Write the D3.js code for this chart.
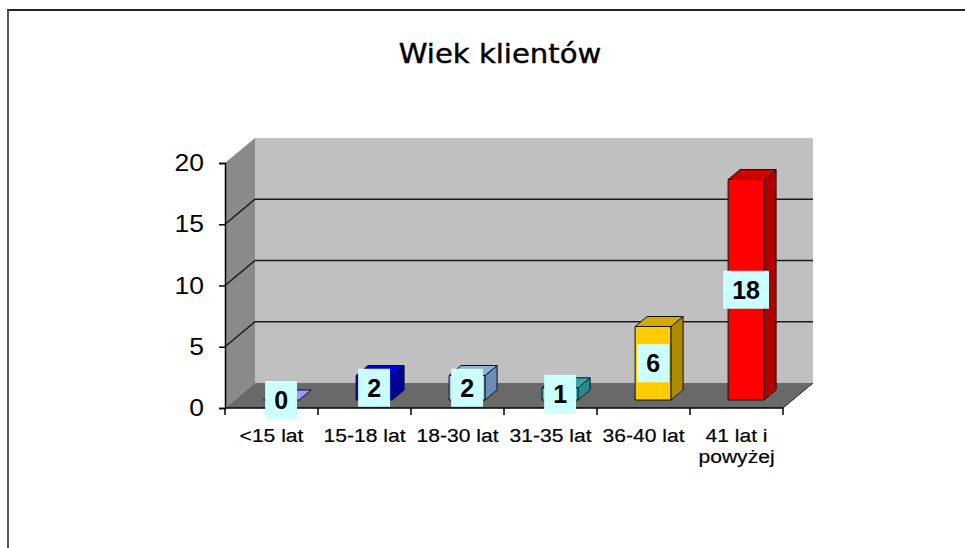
<!DOCTYPE html>
<html>
<head>
<meta charset="utf-8">
<script src="https://cdn.jsdelivr.net/npm/d3@7"></script>
<style>
  body { margin: 0; background: #fff; }
  svg { display: block; }
</style>
</head>
<body>
<div id="chart"></div>
<script>
// data
var categories = ["<15 lat", "15-18 lat", "18-30 lat", "31-35 lat", "36-40 lat", "41 lat i\npowyżej"];
var values = [0, 2, 2, 1, 6, 18];
var yTicks = [0, 5, 10, 15, 20];
var title = "Wiek klientów";

// bar colours: front, top, side
var fronts = ["#9999ff", "#0000ff", "#a6cdfa", "#33cccc", "#ffcc00", "#ff0000"];
var tops   = ["#9999ff", "#0000d8", "#8fb2dc", "#2aa7a7", "#d4a900", "#cc0000"];
var sides  = ["#7070c0", "#000098", "#6a8cb6", "#228f8f", "#ad8b00", "#b00000"];

var width = 965, height = 548;
var DX = 30, DY = -25;        // depth of the 3d box
var f0 = 0.32, f1 = 0.72;     // bar position inside the depth

var svg = d3.select("#chart").append("svg")
    .attr("width", width)
    .attr("height", height);

// frame
svg.append("line").attr("x1", 7).attr("x2", width).attr("y1", 10).attr("y2", 10)
    .attr("stroke", "#222").attr("stroke-width", 2);
svg.append("line").attr("x1", 8).attr("x2", 8).attr("y1", 10).attr("y2", height)
    .attr("stroke", "#555").attr("stroke-width", 2);

// title
svg.append("text")
    .attr("transform", "translate(500,63) scale(1.12,1)")
    .attr("text-anchor", "middle")
    .style("font-family", "DejaVu Sans")
    .style("font-size", "26px")
    .style("stroke", "#000").style("stroke-width", 0.4)
    .text(title);

var x = d3.scaleBand().domain(categories).range([225, 783]);
var y = d3.scaleLinear().domain([0, 20]).range([408, 163]);

function P(px, py, f) { return [px + f * DX, py + f * DY]; }
function poly(pts) { return pts.map(function(p) { return p.join(","); }).join(" "); }

var x0 = x.range()[0], x1 = x.range()[1], yb = y(0), yt = y(20);

// left wall
svg.append("polygon")
    .attr("points", poly([P(x0, yb, 0), P(x0, yt, 0), P(x0, yt, 1), P(x0, yb, 1)]))
    .attr("fill", "#8a8a8a");
// back wall
svg.append("polygon")
    .attr("points", poly([P(x0, yb, 1), P(x0, yt, 1), P(x1, yt, 1), P(x1, yb, 1)]))
    .attr("fill", "#c0c0c0");
// floor
svg.append("polygon")
    .attr("points", poly([P(x0, yb, 0), P(x1, yb, 0), P(x1, yb, 1), P(x0, yb, 1)]))
    .attr("fill", "#696969");
svg.append("line")
    .attr("x1", x1).attr("y1", yb).attr("x2", x1 + DX).attr("y2", yb + DY)
    .attr("stroke", "#222").attr("stroke-width", 1);

// gridlines on left and back wall
var grid = svg.append("g").attr("stroke", "#1a1a1a").attr("stroke-width", 1.5).attr("fill", "none");
grid.selectAll("polyline")
    .data(yTicks.filter(function(t) { return t > 0 && t < 20; }))
    .enter().append("polyline")
    .attr("points", function(t) {
      return poly([P(x0, y(t), 0), P(x0, y(t), 1), P(x1, y(t), 1)]);
    });

// y axis
var yAxis = svg.append("g")
    .attr("transform", "translate(" + x0 + ",0)")
    .call(d3.axisLeft(y).tickValues(yTicks).tickSize(6).tickFormat(""));
yAxis.select(".domain").attr("stroke", "#000").attr("stroke-width", 1.5);
yAxis.selectAll(".tick line").attr("stroke", "#000").attr("stroke-width", 1.5);

svg.append("g").selectAll("text")
    .data(yTicks)
    .enter().append("text")
    .attr("transform", function(t) { return "translate(204," + (y(t) + 8) + ") scale(1.15,1)"; })
    .attr("text-anchor", "end")
    .style("font-family", "Liberation Sans, Arial, sans-serif")
    .style("font-size", "23px")
    .text(String);

// x axis (ticks between categories)
svg.append("line").attr("x1", x0).attr("x2", x1).attr("y1", yb).attr("y2", yb)
    .attr("stroke", "#000").attr("stroke-width", 1.5);
var bounds = categories.map(function(c) { return x(c); }).concat([x1]);
svg.append("g").selectAll("line")
    .data(bounds)
    .enter().append("line")
    .attr("x1", function(d) { return d; }).attr("x2", function(d) { return d; })
    .attr("y1", yb).attr("y2", yb + 7)
    .attr("stroke", "#000").attr("stroke-width", 1.5);

var catText = svg.append("g").selectAll("text")
    .data(categories)
    .enter().append("text")
    .attr("transform", function(c) { return "translate(" + (x(c) + x.bandwidth() / 2) + ",442) scale(1.11,1)"; })
    .attr("text-anchor", "middle")
    .style("font-family", "Liberation Sans, Arial, sans-serif")
    .style("font-size", "19px")
    .style("stroke", "#000").style("stroke-width", 0.2);
catText.selectAll("tspan")
    .data(function(c) { return c.split("\n"); })
    .enter().append("tspan")
    .attr("x", 0)
    .attr("dy", function(d, i) { return i ? 21.5 : 0; })
    .text(function(d) { return d; });

// bars
var bw = x.bandwidth() * 0.387;
var bars = svg.append("g").selectAll("g")
    .data(values)
    .enter().append("g");

bars.each(function(v, i) {
  var g = d3.select(this);
  var bx0 = x(categories[i]) + (x.bandwidth() - bw) / 2, bx1 = bx0 + bw;
  var yv = y(v);
  var st = { stroke: "#111", "stroke-width": 1, "stroke-linejoin": "round" };
  function face(pts, fill) {
    var p = g.append("polygon").attr("points", poly(pts)).attr("fill", fill);
    for (var k in st) p.attr(k, st[k]);
  }
  if (v > 0) {
    face([P(bx0, yv, f0), P(bx1, yv, f0), P(bx1, yb, f0), P(bx0, yb, f0)], fronts[i]);
    face([P(bx1, yv, f0), P(bx1, yv, f1), P(bx1, yb, f1), P(bx1, yb, f0)], sides[i]);
  }
  face([P(bx0, yv, f0), P(bx1, yv, f0), P(bx1, yv, f1), P(bx0, yv, f1)], tops[i]);
});

// data labels
var labels = svg.append("g").selectAll("g")
    .data(values)
    .enter().append("g")
    .attr("transform", function(v, i) {
      var cx = x(categories[i]) + x.bandwidth() / 2 + f0 * DX;
      var cy = (y(v) + yb) / 2 + f0 * DY;
      return "translate(" + cx + "," + cy + ")";
    });
var rects = labels.append("rect").attr("fill", "#ccffff");
var ltext = labels.append("text")
    .attr("text-anchor", "middle")
    .attr("y", 9)
    .style("font-family", "Liberation Sans, Arial, sans-serif")
    .style("font-weight", "bold")
    .style("font-size", "25px")
    .text(String);
ltext.each(function(v, i) {
  var w = this.getComputedTextLength() + 18;
  d3.select(rects.nodes()[i])
      .attr("x", -w / 2).attr("y", -19)
      .attr("width", w).attr("height", 38);
});
</script>
</body>
</html>
